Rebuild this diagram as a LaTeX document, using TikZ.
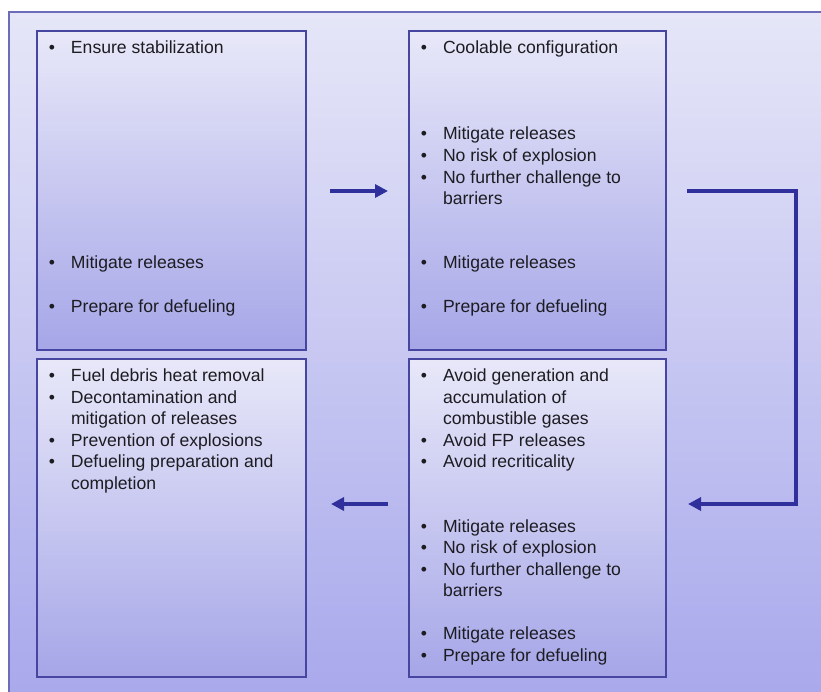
\documentclass[tikz,border=0pt]{standalone}
\usepackage{fontspec}
\setmainfont{Liberation Sans}
\usetikzlibrary{arrows.meta,shadows}

\definecolor{frameline}{RGB}{108,108,184}
\definecolor{frametop}{RGB}{230,230,248}
\definecolor{framebot}{RGB}{168,168,236}
\definecolor{boxline}{RGB}{70,70,160}
\definecolor{boxtop}{RGB}{232,232,249}
\definecolor{boxbot}{RGB}{166,166,232}
\definecolor{flowcol}{RGB}{48,48,156}
\definecolor{inkcol}{RGB}{28,28,34}

% bullet hung to the left of the text start
\newcommand\itembul{\llap{\textbullet\hspace{16pt}}}

\tikzset{
  stagebox/.style={draw=boxline, line width=1.6pt, inner sep=0pt, outer sep=0pt,
    top color=boxtop, bottom color=boxbot,
    drop shadow={shadow xshift=1.2pt, shadow yshift=-1.2pt, opacity=0.35, fill=black!70}},
  txt/.style={anchor=base west, inner sep=0pt, outer sep=0pt, text=inkcol,
    font=\fontsize{17.6}{21.7}\selectfont},
  flow/.style={draw=flowcol, line width=4pt, line join=miter,
    -{Triangle[length=13pt,width=13pt]}},
}

\begin{document}
\begin{tikzpicture}[x=1pt,y=-1pt]
\useasboundingbox (0,0) rectangle (821,691);
\fill[white] (0,0) rectangle (821,691);

% outer panel, running off the right and bottom edges
\begin{scope}
\clip (0,0) rectangle (821,691);
\shade[top color=frametop, bottom color=framebot] (9,12) rectangle (830,700);
\draw[frameline, line width=1.6pt] (9,700) -- (9,12) -- (830,12);
\end{scope}

% the four stages
\node[stagebox, minimum width=269pt, minimum height=319pt] (b1) at (171.5,190.5) {};
\node[stagebox, minimum width=257pt, minimum height=319pt] (b2) at (537.5,190.5) {};
\node[stagebox, minimum width=269pt, minimum height=318pt] (b3) at (171.5,518) {};
\node[stagebox, minimum width=257pt, minimum height=318pt] (b4) at (537.5,518) {};

% stage 1
\node[txt] (t1a) at (71,53)  {\itembul Ensure stabilization};
\node[txt] (t1b) at (71,268) {\itembul Mitigate releases};
\node[txt] (t1c) at (71,312) {\itembul Prepare for defueling};

% stage 2
\node[txt] (t2a) at (443,53)  {\itembul Coolable configuration};
\node[txt] (t2b) at (443,139) {\itembul Mitigate releases};
\node[txt] (t2c) at (443,161) {\itembul No risk of explosion};
\node[txt] (t2d) at (443,183) {\itembul No further challenge to};
\node[txt] (t2e) at (443,204) {barriers};
\node[txt] (t2f) at (443,268) {\itembul Mitigate releases};
\node[txt] (t2g) at (443,312) {\itembul Prepare for defueling};

% stage 3
\node[txt] (t3a) at (71,381) {\itembul Fuel debris heat removal};
\node[txt] (t3b) at (71,403) {\itembul Decontamination and};
\node[txt] (t3c) at (71,424) {mitigation of releases};
\node[txt] (t3d) at (71,446) {\itembul Prevention of explosions};
\node[txt] (t3e) at (71,467) {\itembul Defueling preparation and};
\node[txt] (t3f) at (71,489) {completion};

% stage 4
\node[txt] (t4a) at (443,381) {\itembul Avoid generation and};
\node[txt] (t4b) at (443,403) {accumulation of};
\node[txt] (t4c) at (443,424) {combustible gases};
\node[txt] (t4d) at (443,446) {\itembul Avoid FP releases};
\node[txt] (t4e) at (443,467) {\itembul Avoid recriticality};
\node[txt] (t4f) at (443,532) {\itembul Mitigate releases};
\node[txt] (t4g) at (443,553) {\itembul No risk of explosion};
\node[txt] (t4h) at (443,575) {\itembul No further challenge to};
\node[txt] (t4i) at (443,596) {barriers};
\node[txt] (t4j) at (443,639) {\itembul Mitigate releases};
\node[txt] (t4k) at (443,661) {\itembul Prepare for defueling};

% connectors
\coordinate (turnA) at (796,191);
\coordinate (turnB) at (796,504);

\draw[flow, shorten <=24pt, shorten >=21pt] (b1.east |- turnA) -- (b2.west |- turnA);
\draw[flow, shorten <=21pt, shorten >=22pt] (b2.east |- turnA) -- (turnA) -- (turnB) -- (b4.east |- turnB);
\draw[flow, shorten <=21pt, shorten >=25pt] (b4.west |- turnB) -- (b3.east |- turnB);
\end{tikzpicture}
\end{document}
